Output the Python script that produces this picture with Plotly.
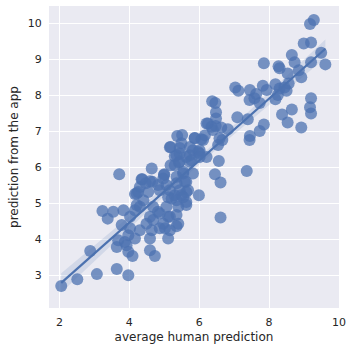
import numpy as np
import plotly.graph_objects as go

human = [9.28, 9.17, 8.99, 9.20, 9.49, 9.61, 7.85, 8.27, 8.30, 8.65, 8.73, 9.20, 8.53, 8.85, 8.92,
         7.03, 7.12, 7.45, 7.63, 7.82, 7.93, 8.18, 8.30, 8.44, 8.56, 8.50, 7.44, 7.58, 7.73, 8.18,
         8.25, 6.37, 6.46, 6.48, 6.48, 9.20, 9.17, 9.20, 8.65, 8.37, 8.53, 8.92, 7.09, 7.39, 7.85,
         7.73, 7.45, 6.25, 6.35, 6.47, 6.63, 6.82, 6.39, 6.16, 6.06, 5.87, 6.58, 6.54, 5.37, 5.51,
         5.49, 5.18, 5.44, 5.82, 5.97, 5.73, 5.35, 6.56, 6.21, 7.44, 6.11, 6.66, 6.01, 5.30, 5.63,
         5.78, 5.42, 5.18, 4.64, 3.71, 6.45, 6.61, 7.36, 5.99, 6.61, 4.99, 4.35, 4.66, 4.47, 4.30,
         4.25, 4.16, 4.54, 4.87, 5.06, 5.35, 5.63, 5.82, 5.54, 5.68, 5.49, 5.21, 5.63, 5.40, 5.35,
         5.11, 4.82, 4.59, 4.68, 4.49, 4.30, 4.16, 4.02, 3.83, 3.54, 3.23, 3.38, 3.78, 4.02, 4.30,
         4.64, 4.87, 5.02, 5.35, 5.11, 4.59, 4.16, 3.97, 3.87, 3.64, 3.97, 4.09, 4.59, 4.73, 3.68,
         2.88, 3.64, 3.97, 3.07, 2.51, 2.05, 5.00, 4.97, 4.37, 4.59, 4.82, 4.21, 5.16, 5.87, 6.21,
         6.01, 5.73, 5.44, 5.30, 5.44, 5.73, 6.01, 5.54, 5.35, 5.59, 5.44, 5.63, 5.30, 5.16, 4.40,
         4.68, 4.87, 4.97, 5.16, 5.40, 5.16, 5.11, 5.35, 5.54, 5.63, 5.06, 4.21, 3.92]
app = [10.09, 9.98, 9.44, 9.47, 9.18, 8.86, 8.89, 8.81, 8.75, 9.12, 8.92, 8.92, 8.61, 8.70, 8.50,
       8.22, 8.13, 8.15, 8.04, 8.27, 8.15, 8.31, 8.19, 8.22, 8.33, 8.13, 7.87, 7.92, 7.79, 7.89,
       8.01, 7.84, 7.79, 7.53, 7.36, 7.92, 7.67, 7.50, 7.61, 7.47, 7.25, 7.11, 7.39, 7.34, 7.19,
       7.01, 6.87, 7.22, 7.13, 7.15, 7.11, 7.06, 7.04, 6.89, 6.78, 6.82, 6.81, 6.62, 6.87, 6.90,
       6.67, 6.57, 6.54, 6.48, 6.43, 6.34, 6.34, 6.18, 6.29, 6.76, 6.76, 6.76, 6.39, 6.31, 6.29,
       6.20, 6.13, 6.06, 5.97, 5.81, 5.81, 5.58, 5.90, 5.23, 4.61, 5.79, 5.67, 5.60, 5.56, 5.46,
       5.32, 5.26, 5.32, 5.37, 5.51, 5.56, 5.60, 5.83, 5.83, 5.37, 5.23, 5.14, 5.04, 4.91, 4.68,
       4.63, 4.77, 4.63, 4.54, 4.44, 4.91, 4.81, 4.63, 4.81, 4.77, 4.79, 4.58, 4.40, 4.31, 4.26,
       4.26, 4.31, 4.31, 4.37, 4.03, 4.03, 4.03, 4.12, 3.93, 3.79, 3.66, 3.54, 3.70, 3.54, 3.98,
       3.68, 3.18, 3.01, 3.04, 2.90, 2.71, 5.81, 5.69, 5.67, 5.62, 5.51, 5.28, 6.56, 6.81, 7.22,
       6.48, 6.57, 6.39, 6.06, 6.16, 6.16, 6.29, 5.88, 5.74, 5.60, 5.37, 5.32, 5.23, 5.37, 5.09,
       4.91, 4.72, 4.44, 4.63, 4.44, 4.26, 5.17, 5.09, 5.17, 4.96, 4.91, 4.96, 3.84]

x = np.array(human)
y = np.array(app)
n = len(x)
b, a = np.polyfit(x, y, 1)
grid = np.linspace(x.min(), x.max(), 100)
yhat = a + b * grid
resid = y - (a + b * x)
s = np.sqrt(np.sum(resid ** 2) / (n - 2))
sxx = np.sum((x - x.mean()) ** 2)
se = s * np.sqrt(1 / n + (grid - x.mean()) ** 2 / sxx)
lo = yhat - 1.97 * se
hi = yhat + 1.97 * se

blue = "#4C72B0"
fig = go.Figure()
fig.add_trace(go.Scatter(x=list(grid) + list(grid[::-1]), y=list(hi) + list(lo[::-1]),
                         fill="toself", fillcolor="rgba(76,114,176,0.15)", line=dict(width=0),
                         hoverinfo="skip", showlegend=False))
fig.add_trace(go.Scatter(x=human, y=app, mode="markers",
                         marker=dict(color=blue, size=12, opacity=0.75, line=dict(width=0)),
                         showlegend=False))
fig.add_trace(go.Scatter(x=grid, y=yhat, mode="lines", line=dict(color=blue, width=2.2),
                         showlegend=False))

font_col = "#262626"
fig.update_layout(
    width=352, height=352,
    margin=dict(l=49, r=13, t=6, b=44),
    paper_bgcolor="white", plot_bgcolor="#EAEAF2",
    font=dict(family="DejaVu Sans", color=font_col, size=11),
    xaxis=dict(range=[1.70, 10.0], tickvals=[2, 4, 6, 8, 10], gridcolor="white", gridwidth=1.2,
               zeroline=False, showline=False, ticks="outside", ticklen=4, tickcolor="rgba(0,0,0,0)",
               title=dict(text="average human prediction", font=dict(size=12), standoff=4),
               tickfont=dict(size=11)),
    yaxis=dict(range=[2.10, 10.48], tickvals=[3, 4, 5, 6, 7, 8, 9, 10], gridcolor="white", gridwidth=1.2,
               zeroline=False, showline=False, ticks="outside", ticklen=4, tickcolor="rgba(0,0,0,0)",
               title=dict(text="prediction from the app", font=dict(size=12), standoff=6),
               tickfont=dict(size=11)),
)
fig.write_html("out.html")
